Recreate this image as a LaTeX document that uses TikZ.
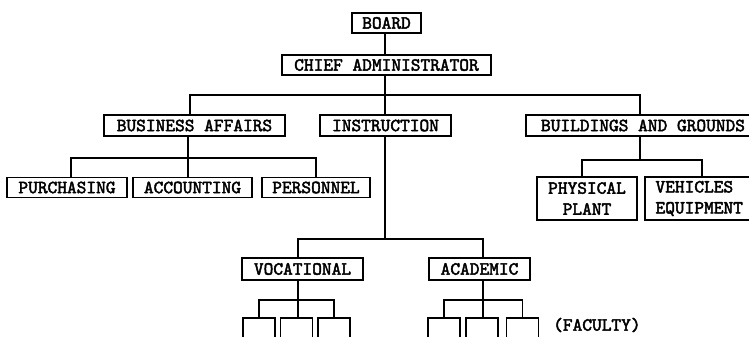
\documentclass[tikz,border=0pt]{standalone}
\usepackage{fontspec}
% heavy typewriter face for the chart labels
\newfontfamily\chartfont{lmmono10-regular.otf}[FakeBold=2.4]
\begin{document}
\begin{tikzpicture}[x=1pt,y=-1pt,
  unit/.style={draw, line width=1.9pt, inner sep=0pt, anchor=center,
    font=\chartfont\fontsize{18.5}{21}\selectfont},
  onebox/.style={unit, minimum height=20pt},
  twobox/.style={unit, minimum height=43pt},
  stub/.style={draw, line width=1.9pt, minimum width=32pt, minimum height=32pt, inner sep=0pt},
  link/.style={line width=1.6pt}]
\useasboundingbox (0,0) rectangle (749,337);
\fill[white] (0,0) rectangle (749,337);
\begin{scope}
\clip (0,0) rectangle (749,337);

% top of the chart
\node[onebox, minimum width=69pt]  (board) at (386.5,23) {BOARD};
\node[onebox, minimum width=209pt] (chief) at (386.5,65) {CHIEF ADMINISTRATOR};

% departments
\node[onebox, minimum width=181pt, minimum height=21pt] (business)    at (194.5,125.5) {BUSINESS AFFAIRS};
\node[onebox, minimum width=131pt, minimum height=21pt] (instruction) at (385.5,125.5) {INSTRUCTION};
\node[onebox, minimum width=234pt, minimum height=21pt] (buildings)   at (643,125.5) {BUILDINGS AND GROUNDS};

% business affairs units
\node[onebox, minimum width=120pt] (purchasing) at (67,187.5)  {PURCHASING};
\node[onebox, minimum width=119pt] (accounting) at (192.5,187.5) {ACCOUNTING};
\node[onebox, minimum width=108pt] (personnel)  at (316,187.5) {PERSONNEL};

% buildings and grounds units
\node[twobox, minimum width=100pt, align=center] (physical) at (587,198.5) {PHYSICAL\\PLANT};
\node[twobox, minimum width=117pt, align=left, text width=96pt] (vehicles) at (703.5,198.5) {VEHICLES\\EQUIPMENT};

% instruction units
\node[onebox, minimum width=121pt, minimum height=22pt] (vocational) at (302.5,269) {VOCATIONAL};
\node[onebox, minimum width=101pt, minimum height=22pt] (academic)   at (479.5,269) {ACADEMIC};

% faculty boxes, open at the foot of the page
\node[stub] (v1) at (259,334)   {};
\node[stub] (v2) at (296.5,334) {};
\node[stub] (v3) at (334,334)   {};
\node[stub] (a1) at (444,334)   {};
\node[stub] (a2) at (482,334)   {};
\node[stub] (a3) at (522.5,334) {};
\node[font=\chartfont\fontsize{18.5}{21}\selectfont, anchor=west, inner sep=0pt] (faculty) at (553,325) {(FACULTY)};

% branch levels
\coordinate (topbus)  at (385,95);
\coordinate (bizbus)  at (188,158);
\coordinate (bldbus)  at (640,160);
\coordinate (insbus)  at (385,239);
\coordinate (vocbus)  at (298,300);
\coordinate (acabus)  at (483,300);

% board to chief, chief to departments
\draw[link] (board.south -| topbus) -- (chief.north -| topbus);
\draw[link] (chief.south -| topbus) -- (instruction.north -| topbus);
\draw[link] (business.north -| 190,0) -- (topbus -| 190,0) -- (topbus -| bldbus) -- (buildings.north -| bldbus);

% business affairs
\draw[link] (business.south -| bizbus) -- (bizbus);
\draw[link] (purchasing.north -| 71,0) -- (bizbus -| 71,0) -- (bizbus -| 316,0) -- (personnel.north -| 316,0);
\draw[link] (bizbus) -- (accounting.north -| bizbus);

% buildings and grounds
\draw[link] (buildings.south -| bldbus) -- (bldbus);
\draw[link] (physical.north -| 582,0) -- (bldbus -| 582,0) -- (bldbus -| 702,0) -- (vehicles.north -| 702,0);

% instruction
\draw[link] (instruction.south -| insbus) -- (insbus);
\draw[link] (vocational.north -| vocbus) -- (insbus -| vocbus) -- (insbus -| acabus) -- (academic.north -| acabus);

% vocational faculty
\draw[link] (vocational.south -| vocbus) -- (vocbus);
\draw[link] (v1.north) -- (v1.north |- vocbus) -- (v3.north |- vocbus) -- (v3.north);
\draw[link] (vocbus) -- (v2.north -| vocbus);

% academic faculty
\draw[link] (academic.south -| acabus) -- (acabus);
\draw[link] (a1.north) -- (a1.north |- acabus) -- (a3.north |- acabus) -- (a3.north);
\draw[link] (acabus) -- (a2.north -| acabus);
\end{scope}
\end{tikzpicture}
\end{document}
